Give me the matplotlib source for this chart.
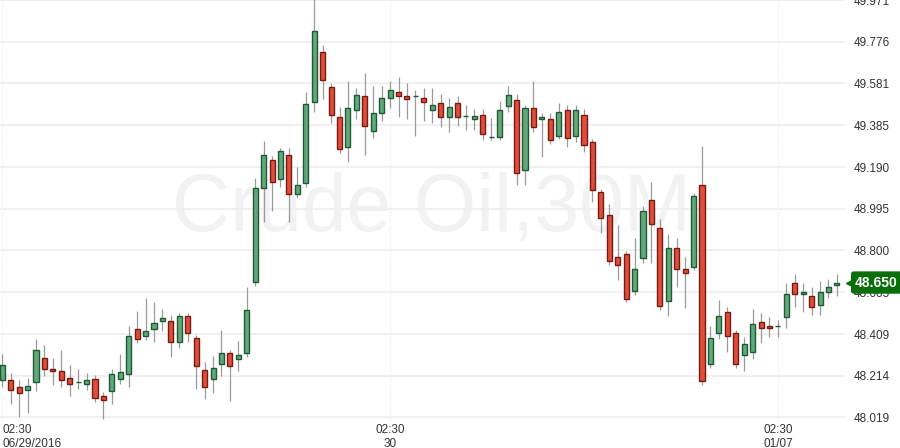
import numpy as np
import matplotlib
matplotlib.use("Agg")
import matplotlib.pyplot as plt
from matplotlib.transforms import blended_transform_factory

# Crude Oil 30M candles, 06/29/2016 02:30 onward
opens = [48.194, 48.194, 48.163, 48.146, 48.184, 48.296, 48.244, 48.236, 48.202, 48.184,
         48.174, 48.198, 48.118, 48.142, 48.198, 48.221, 48.431, 48.399, 48.431, 48.469,
         48.469, 48.371, 48.492, 48.389, 48.240, 48.198, 48.268, 48.319, 48.291, 48.319,
         48.651, 49.090, 49.221, 49.132, 49.245, 49.062, 49.114, 49.492, 49.726, 49.562,
         49.422, 49.282, 49.455, 49.520, 49.357, 49.441, 49.511, 49.539, 49.520, 49.520,
         49.511, 49.458, 49.488, 49.425, 49.488, 49.427, 49.416, 49.432, 49.331, 49.331,
         49.474, 49.502, 49.174, 49.464, 49.413, 49.413, 49.333, 49.455, 49.333, 49.432,
         49.305, 49.072, 48.964, 48.768, 48.782, 48.609, 48.763, 49.034, 48.903, 48.562,
         48.810, 48.712, 48.721, 49.104, 48.268, 48.413, 48.511, 48.413, 48.310, 48.324,
         48.464, 48.445, 48.445, 48.487, 48.646, 48.595, 48.586, 48.543, 48.604, 48.637]
highs = [48.316, 48.227, 48.194, 48.202, 48.386, 48.358, 48.296, 48.335, 48.263, 48.246,
         48.227, 48.218, 48.137, 48.244, 48.316, 48.447, 48.516, 48.578, 48.559, 48.526,
         48.497, 48.507, 48.507, 48.405, 48.278, 48.306, 48.428, 48.336, 48.377, 48.629,
         49.137, 49.311, 49.243, 49.279, 49.279, 49.190, 49.540, 49.990, 49.760, 49.581,
         49.470, 49.593, 49.559, 49.629, 49.568, 49.568, 49.592, 49.611, 49.584, 49.550,
         49.558, 49.558, 49.531, 49.511, 49.520, 49.478, 49.460, 49.460, 49.417, 49.497,
         49.568, 49.531, 49.480, 49.590, 49.441, 49.441, 49.489, 49.478, 49.478, 49.460,
         49.319, 49.087, 49.016, 48.917, 48.796, 48.857, 49.006, 49.118, 48.945, 48.875,
         48.857, 48.768, 49.067, 49.287, 48.445, 48.567, 48.534, 48.427, 48.394, 48.525,
         48.506, 48.487, 48.473, 48.646, 48.688, 48.646, 48.628, 48.656, 48.665, 48.688]
lows = [48.163, 48.084, 48.023, 48.041, 48.144, 48.214, 48.172, 48.163, 48.120, 48.152,
        48.148, 48.092, 48.013, 48.084, 48.174, 48.163, 48.365, 48.383, 48.373, 48.425,
        48.303, 48.345, 48.373, 48.154, 48.104, 48.132, 48.214, 48.095, 48.235, 48.303,
        48.635, 48.934, 48.986, 49.098, 48.934, 49.046, 49.098, 49.448, 49.509, 49.397,
        49.257, 49.215, 49.416, 49.247, 49.327, 49.406, 49.467, 49.425, 49.416, 49.336,
        49.406, 49.397, 49.378, 49.355, 49.383, 49.364, 49.363, 49.317, 49.316, 49.316,
        49.448, 49.107, 49.106, 49.355, 49.238, 49.296, 49.319, 49.285, 49.308, 49.259,
        49.028, 48.883, 48.733, 48.663, 48.557, 48.593, 48.743, 48.743, 48.523, 48.495,
        48.628, 48.532, 48.707, 48.172, 48.252, 48.385, 48.324, 48.252, 48.235, 48.294,
        48.366, 48.394, 48.394, 48.436, 48.534, 48.514, 48.497, 48.497, 48.576, 48.586]
closes = [48.263, 48.146, 48.132, 48.165, 48.333, 48.244, 48.235, 48.193, 48.174, 48.184,
          48.194, 48.109, 48.099, 48.221, 48.230, 48.399, 48.388, 48.422, 48.459, 48.483,
          48.371, 48.492, 48.413, 48.258, 48.160, 48.249, 48.319, 48.258, 48.310, 48.520,
          49.090, 49.245, 49.121, 49.263, 49.062, 49.104, 49.483, 49.824, 49.595, 49.432,
          49.273, 49.464, 49.525, 49.380, 49.441, 49.511, 49.548, 49.520, 49.509, 49.520,
          49.495, 49.478, 49.425, 49.469, 49.425, 49.427, 49.427, 49.343, 49.331, 49.455,
          49.525, 49.160, 49.464, 49.375, 49.422, 49.315, 49.446, 49.324, 49.455, 49.291,
          49.081, 48.950, 48.749, 48.730, 48.572, 48.712, 48.983, 48.922, 48.539, 48.810,
          48.712, 48.693, 49.053, 48.188, 48.389, 48.492, 48.399, 48.268, 48.361, 48.455,
          48.436, 48.436, 48.445, 48.595, 48.595, 48.604, 48.534, 48.604, 48.628, 48.650]

price_ticks = [48.019, 48.214, 48.409, 48.605, 48.800, 48.995, 49.190, 49.385, 49.581, 49.776, 49.971]
time_tick_pos = [0, 46, 92]
time_tick_labels = ["02:30\n06/29/2016", "02:30\n30", "02:30\n01/07"]
last_price = 48.650
title = "Crude Oil,30M"

plt.rcParams['font.family'] = ['Liberation Sans', 'DejaVu Sans']

fig = plt.figure(figsize=(9, 4.48), dpi=100)
ax = fig.add_axes([0, 27 / 448, 845 / 900, 421 / 448])

o = np.array(opens)
h = np.array(highs)
l = np.array(lows)
c = np.array(closes)
x = np.arange(len(o))
up = c >= o

green_fill, green_edge = '#62a87a', '#1f5a36'
red_fill, red_edge = '#dd4f3c', '#781a12'

ax.text(50.9, 48.99, title, fontsize=58, color='#f2f2f2', ha='center', va='center', zorder=0)

ax.vlines(x, l, h, color='#9a9a9a', linewidth=0.9, zorder=2)
body_lo = np.minimum(o, c)
body_h = np.abs(c - o)
ax.bar(x[up], body_h[up], bottom=body_lo[up], width=0.6, color=green_fill,
       edgecolor=green_edge, linewidth=1.0, zorder=3)
ax.bar(x[~up], body_h[~up], bottom=body_lo[~up], width=0.6, color=red_fill,
       edgecolor=red_edge, linewidth=1.0, zorder=3)

ax.set_xlim(-0.27, 99.96)
ax.set_ylim(48.0026, 49.9704)

for p in price_ticks:
    ax.axhline(p, color='#f0f0f0', linewidth=1.5, zorder=1)
for t in time_tick_pos:
    ax.axvline(t, color='#f0f0f0', linewidth=1.0, linestyle=(0, (1, 1)), zorder=1)

ax.yaxis.tick_right()
ax.set_yticks(price_ticks)
ax.set_yticklabels([f"{p:.3f}" for p in price_ticks])
ax.set_xticks(time_tick_pos)
ax.set_xticklabels(time_tick_labels)
ax.tick_params(axis='both', length=0, labelsize=8.5, colors='#333333')
ax.tick_params(axis='y', pad=6)
ax.tick_params(axis='x', pad=2)
xt = ax.get_xticklabels()
xt[0].set_horizontalalignment('left')
xt[0].set_x(-0.27)
for lab in xt[1:]:
    lab.set_multialignment('center')
for s in ax.spines.values():
    s.set_visible(False)

# last price tag
trans = blended_transform_factory(ax.transAxes, ax.transData)
ax.text(1.012, last_price, f"{last_price:.3f}", transform=trans, ha='left', va='center',
        fontsize=10, fontweight='bold', color='white', zorder=6, clip_on=False,
        bbox=dict(boxstyle='round,pad=0.25,rounding_size=0.15', fc='#0a6e0a', ec='#0a6e0a'))
ax.plot([1.006], [last_price], marker='<', markersize=6, color='#0a6e0a',
        transform=trans, clip_on=False, zorder=6)

fig.savefig('out.png', dpi=100)
